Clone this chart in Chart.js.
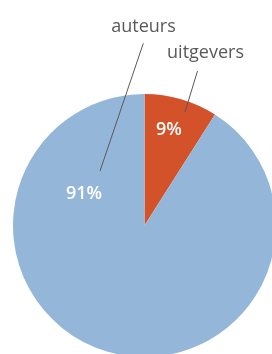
<!DOCTYPE html>
<html>
<head>
<meta charset="utf-8">
<script src="https://cdn.jsdelivr.net/npm/chart.js@4/dist/chart.umd.min.js"></script>
<style>
	html, body { margin: 0; padding: 0; background: #fff; overflow: hidden; width: 272px; height: 354px; }
	#pie { position: absolute; left: 0; top: 0; }
</style>
</head>
<body>
<canvas id="pie" width="300" height="380"></canvas>
<script>
const categories = ["uitgevers", "auteurs"];
const shares = [9, 91];
const percentLabels = ["9%", "91%"];

const sliceColors = ["#d4522a", "#94b7d9"];

// where names, leader lines and percentages sit, as offsets from the pie centre
const nameSpots = [
	{ text: [61, -168], line: [[53, -154.5], [40.5, -113.5]] },
	{ text: [-1, -193.5], line: [[-1.2, -182.2], [-44.5, -54.5]] },
];
const percentSpots = [[24.5, -96], [-60.5, -31.5]];

const labelPlugin = {
	id: "pieLabels",
	afterDatasetsDraw(chart) {
		const ctx = chart.ctx;
		const arcs = chart.getDatasetMeta(0).data;
		ctx.save();
		arcs.forEach((arc, i) => {
			const cx = arc.x;
			const cy = arc.y;
			const spot = nameSpots[i];

			ctx.strokeStyle = "#595959";
			ctx.lineWidth = 1;
			ctx.beginPath();
			ctx.moveTo(cx + spot.line[0][0], cy + spot.line[0][1]);
			ctx.lineTo(cx + spot.line[1][0], cy + spot.line[1][1]);
			ctx.stroke();

			ctx.fillStyle = "#595959";
			ctx.font = "18px 'Open Sans'";
			ctx.textAlign = "center";
			ctx.textBaseline = "alphabetic";
			ctx.fillText(categories[i], cx + spot.text[0], cy + spot.text[1]);

			ctx.fillStyle = "#ffffff";
			ctx.font = "600 18px 'Open Sans'";
			ctx.textBaseline = "middle";
			ctx.fillText(percentLabels[i], cx + percentSpots[i][0], cy + percentSpots[i][1]);
		});
		ctx.restore();
	},
};

const pieChart = new Chart(document.getElementById("pie"), {
	type: "pie",
	data: {
		labels: categories,
		datasets: [
			{
				data: shares,
				backgroundColor: sliceColors,
				borderWidth: 0,
			},
		],
	},
	options: {
		responsive: false,
		animation: false,
		layout: {
			padding: { left: 13, top: 94, right: 24, bottom: 23 },
		},
		plugins: {
			legend: { display: false },
			tooltip: { enabled: false },
		},
	},
	plugins: [labelPlugin],
});
</script>
</body>
</html>
